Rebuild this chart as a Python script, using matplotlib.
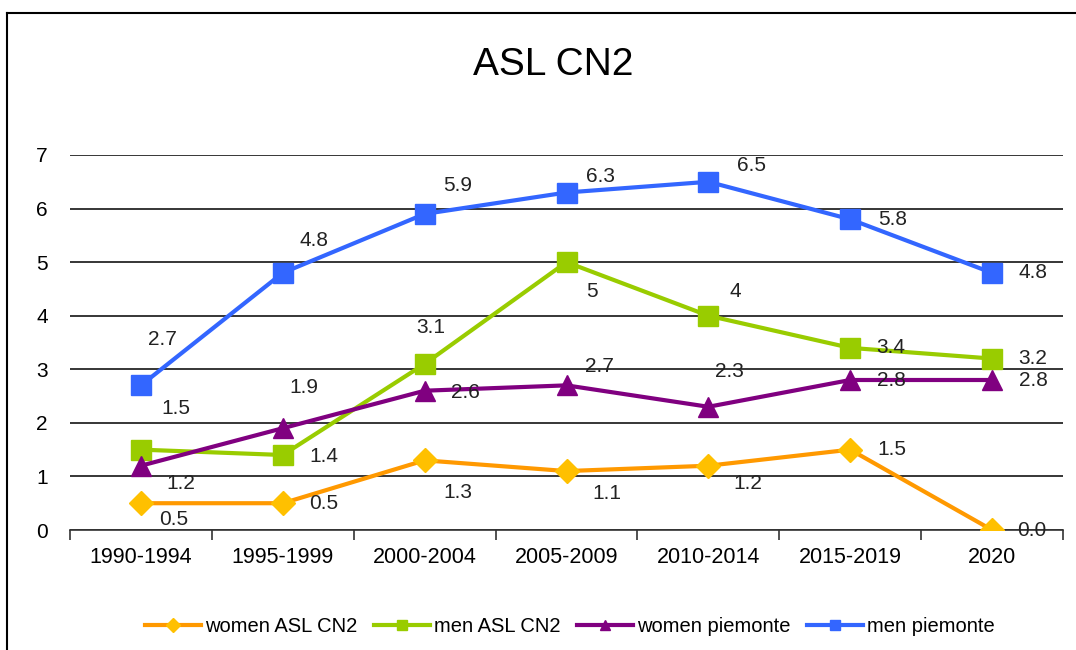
import numpy as np
import matplotlib.pyplot as plt
from matplotlib.lines import Line2D

plt.rcParams['font.family'] = ['Liberation Sans', 'DejaVu Sans']

periods = ["1990-1994", "1995-1999", "2000-2004", "2005-2009", "2010-2014", "2015-2019", "2020"]
women_asl = [0.5, 0.5, 1.3, 1.1, 1.2, 1.5, 0.0]
men_asl = [1.5, 1.4, 3.1, 5.0, 4.0, 3.4, 3.2]
women_pie = [1.2, 1.9, 2.6, 2.7, 2.3, 2.8, 2.8]
men_pie = [2.7, 4.8, 5.9, 6.3, 6.5, 5.8, 4.8]

labels_women_asl = ["0.5", "0.5", "1.3", "1.1", "1.2", "1.5", "0.0"]
labels_men_asl = ["1.5", "1.4", "3.1", "5", "4", "3.4", "3.2"]
labels_women_pie = ["1.2", "1.9", "2.6", "2.7", "2.3", "2.8", "2.8"]
labels_men_pie = ["2.7", "4.8", "5.9", "6.3", "6.5", "5.8", "4.8"]

# label offsets in pixels (dx, dy with dy up)
off_women_asl = [(33, -16), (41, 0), (33, -32), (40, -22), (39, -18), (42, 0), (40, 0)]
off_men_asl = [(35, 41), (41, -2), (6, 36), (25, -29), (27, 24), (41, 0), (41, 0)]
off_women_pie = [(40, -18), (21, 41), (41, -2), (33, 19), (21, 35), (41, 0), (41, 0)]
off_men_pie = [(22, 46), (31, 32), (33, 28), (34, 16), (43, 16), (42, 0), (41, 0)]

fig = plt.figure(figsize=(10.76, 6.5), dpi=100)
ax = fig.add_axes([70 / 1076, 120 / 650, 993 / 1076, 375 / 650])

x = np.arange(len(periods))

series = [
    ("women ASL CN2", women_asl, labels_women_asl, off_women_asl, "#FF9900", "D", "#FFC000", 12),
    ("men ASL CN2", men_asl, labels_men_asl, off_men_asl, "#99CC00", "s", "#99CC00", 14),
    ("women piemonte", women_pie, labels_women_pie, off_women_pie, "#800080", "^", "#800080", 14),
    ("men piemonte", men_pie, labels_men_pie, off_men_pie, "#3366FF", "s", "#3366FF", 14),
]

handles = []
for name, vals, labs, offs, col, mk, mcol, ms in series:
    ax.plot(x, vals, color=col, lw=3, marker=mk, markersize=ms,
            markerfacecolor=mcol, markeredgecolor=mcol, zorder=3)
    for xi, v, t, (dx, dy) in zip(x, vals, labs, offs):
        ax.annotate(t, (xi, v), xytext=(dx, dy), textcoords="offset pixels",
                    ha="center", va="center", fontsize=15, color="#222222", zorder=4)
    handles.append(Line2D([0], [0], color=col, lw=3, marker=mk, markersize=7,
                          markerfacecolor=mcol, markeredgecolor=mcol, label=name))

ax.set_xlim(-0.5, len(periods) - 0.5)
ax.set_ylim(0, 7)
ax.set_yticks(range(0, 8))
ax.yaxis.grid(True, color="black", lw=1.1)
ax.set_axisbelow(True)
ax.set_xticks(x)
ax.set_xticklabels(periods, fontsize=15.5)
ax.set_xticks(np.arange(-0.5, len(periods)), minor=True)
ax.tick_params(axis="x", which="major", length=0, pad=12)
ax.tick_params(axis="x", which="minor", length=7, color="#333333", width=1.2)
ax.tick_params(axis="y", length=0, labelsize=15, pad=16)
for s in ["top", "right", "left"]:
    ax.spines[s].set_visible(False)
ax.spines["bottom"].set_color("#333333")
ax.spines["bottom"].set_linewidth(1.2)

fig.text(553 / 1076, 1 - 65 / 650, "ASL CN2", ha="center", va="center", fontsize=28)

fig.legend(handles=handles, loc="center", bbox_to_anchor=(570 / 1076, 1 - 627 / 650),
           ncol=4, frameon=False, fontsize=14.5, handlelength=2.8, handletextpad=0.2,
           columnspacing=0.8)

# outer frame
fig.add_artist(Line2D([7 / 1076, 7 / 1076], [0, 1 - 13 / 650], color="black", lw=1.5))
fig.add_artist(Line2D([7 / 1076, 1], [1 - 13 / 650, 1 - 13 / 650], color="black", lw=1.5))

fig.savefig("out.png", dpi=100)
